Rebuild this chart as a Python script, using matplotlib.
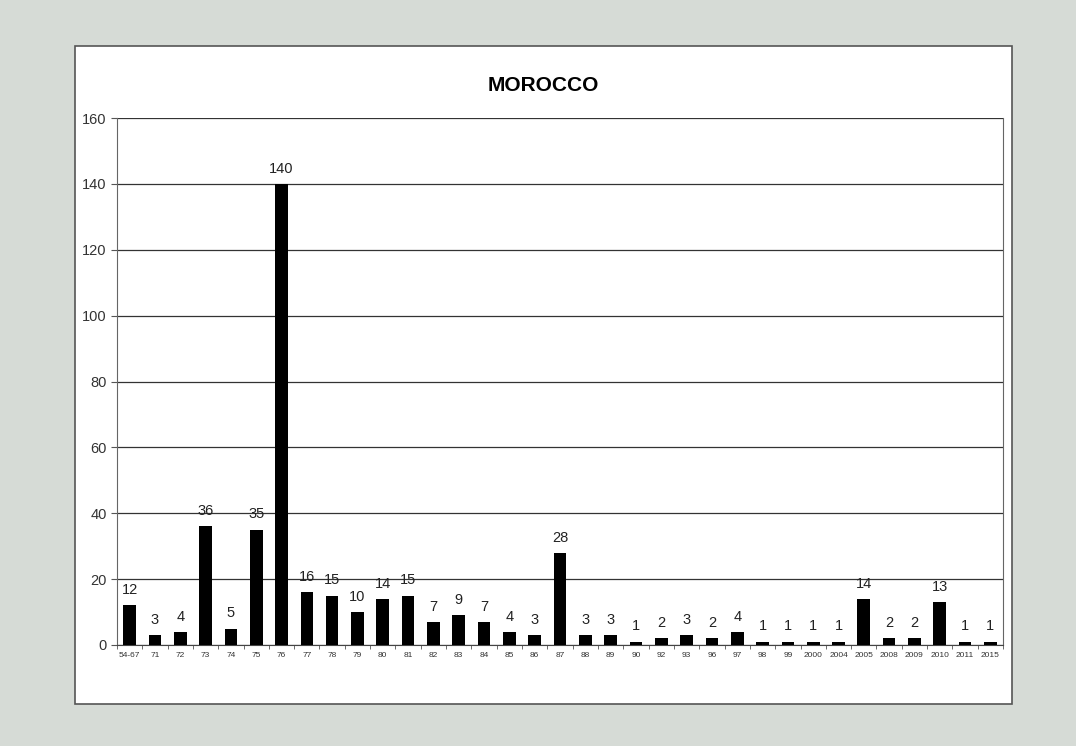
import matplotlib.pyplot as plt
from matplotlib.patches import Rectangle

plt.rcParams['font.family'] = ['Liberation Sans', 'DejaVu Sans']

# years (grouped) and counts
years = ['54-67', '71', '72', '73', '74', '75', '76', '77', '78', '79', '80', '81',
         '82', '83', '84', '85', '86', '87', '88', '89', '90', '92', '93', '96',
         '97', '98', '99', '2000', '2004', '2005', '2008', '2009', '2010', '2011', '2015']
counts = [12, 3, 4, 36, 5, 35, 140, 16, 15, 10, 14, 15, 7, 9, 7, 4, 3, 28, 3, 3,
          1, 2, 3, 2, 4, 1, 1, 1, 1, 14, 2, 2, 13, 1, 1]

fig = plt.figure(figsize=(10.76, 7.46), dpi=100, facecolor='#d6dbd6')
# white chart box behind the axes
fig.patches.append(Rectangle((0.0697, 0.0563), 0.8708, 0.882, transform=fig.transFigure,
                             facecolor='white', edgecolor='#555555', linewidth=1.2, zorder=-10))

ax = fig.add_axes([0.1087, 0.1354, 0.8235, 0.7064])
x = range(len(years))
ax.bar(x, counts, width=0.5, color='black', zorder=3)
for xi, v in zip(x, counts):
    ax.text(xi, v + 2.5, str(v), ha='center', va='bottom', fontsize=10.5, color='#222222')

ax.set_xlim(-0.5, len(years) - 0.5)
ax.set_ylim(0, 160)
ax.set_yticks(range(0, 161, 20))
ax.set_xticks(list(x))
ax.set_xticklabels(years, fontsize=6, color='#333333')
# tick marks sit between categories
ax.set_xticks([i - 0.5 for i in range(len(years) + 1)], minor=True)
ax.tick_params(axis='x', which='major', length=0, pad=5)
ax.tick_params(axis='x', which='minor', length=3, color='#555555')
ax.tick_params(axis='y', labelsize=10.5, labelcolor='#333333', length=4, color='#555555')
ax.grid(axis='y', color='#333333', linewidth=0.9, zorder=1)
for s in ax.spines.values():
    s.set_color('#666666')
ax.spines['top'].set_visible(False)
ax.spines['bottom'].set_color('#444444')

fig.text(0.505, 0.885, 'MOROCCO', ha='center', va='center', fontsize=15, fontweight='bold')

fig.savefig('out.png', dpi=100, facecolor=fig.get_facecolor())
